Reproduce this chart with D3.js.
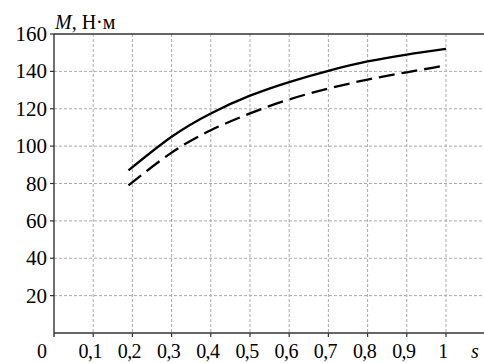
<!DOCTYPE html>
<html><head><meta charset="utf-8">
<script src="https://cdn.jsdelivr.net/npm/d3@7"></script>
</head><body style="margin:0"><svg id="c" width="484" height="363"></svg>
<script>
const sValues = [0.19, 0.3, 0.4, 0.5, 0.6, 0.7, 0.8, 0.9, 1.0];
const solidM  = [87, 105, 117.5, 127, 134.3, 140.3, 145.3, 149, 152];
const dashedM = [79, 96.5, 108.5, 117.5, 125, 130.8, 135.6, 139.5, 143.2];
const xTicks = [0.1,0.2,0.3,0.4,0.5,0.6,0.7,0.8,0.9,1];
const yTicks = [20,40,60,80,100,120,140,160];

const svg = d3.select("#c");
const L = 54, T = 34, B = 333, R = 484;
const x = d3.scaleLinear().domain([0, 1.097]).range([L, R]);
const y = d3.scaleLinear().domain([0, 160]).range([B, T]);
const fmt = d => String(d).replace(".", ",");
const ff = () => '"Liberation Serif"';

// grid
svg.append("g").selectAll("line").data(xTicks).join("line")
  .attr("x1", d => x(d)).attr("x2", d => x(d)).attr("y1", T).attr("y2", B)
  .attr("stroke", "#aaa").attr("stroke-width", 1).attr("stroke-dasharray", "3,2");
svg.append("g").selectAll("line").data(yTicks.filter(d => d < 160)).join("line")
  .attr("x1", L).attr("x2", R).attr("y1", d => y(d)).attr("y2", d => y(d))
  .attr("stroke", "#aaa").attr("stroke-width", 1).attr("stroke-dasharray", "3,2");

// axes
const ax = "#333";
svg.append("line").attr("x1", L).attr("x2", R).attr("y1", T).attr("y2", T).attr("stroke", ax).attr("stroke-width", 1.4);
svg.append("line").attr("x1", L).attr("x2", R).attr("y1", B).attr("y2", B).attr("stroke", ax).attr("stroke-width", 1.4);
svg.append("line").attr("x1", L).attr("x2", L).attr("y1", T).attr("y2", B + 4).attr("stroke", ax).attr("stroke-width", 1.4);
svg.append("g").selectAll("line").data(yTicks).join("line")
  .attr("x1", L - 4).attr("x2", L).attr("y1", d => y(d)).attr("y2", d => y(d)).attr("stroke", ax).attr("stroke-width", 1.2);
svg.append("g").selectAll("line").data(xTicks).join("line")
  .attr("x1", d => x(d)).attr("x2", d => x(d)).attr("y1", B).attr("y2", B + 4).attr("stroke", ax).attr("stroke-width", 1.2);

// labels
svg.selectAll("text.yl").data(yTicks).join("text").attr("class", "yl")
  .style("font-family", ff)
  .attr("x", 47).attr("y", d => y(d) + 7).attr("text-anchor", "end")
  .attr("font-size", 21).text(d => d);
svg.selectAll("text.xl").data(xTicks).join("text").attr("class", "xl")
  .style("font-family", ff)
  .attr("x", d => x(d) - 3).attr("y", 358).attr("text-anchor", "middle")
  .attr("font-size", 20).attr("letter-spacing", -0.6).text(fmt);
svg.append("text").style("font-family", ff).attr("x", 42).attr("y", 358).attr("text-anchor", "middle").attr("font-size", 20).text("0");
svg.append("text").style("font-family", ff).attr("x", 471).attr("y", 358).attr("font-size", 20).attr("font-style", "italic").text("s");
const t = svg.append("text").style("font-family", ff).attr("x", 55).attr("y", 29).attr("font-size", 20);
t.append("tspan").attr("font-style", "italic").text("M");
t.append("tspan").text(", Н·м");

// curves
const line = d3.line().x(d => x(d[0])).y(d => y(d[1])).curve(d3.curveNatural);
svg.append("path").datum(sValues.map((s, i) => [s, solidM[i]])).attr("d", line)
  .attr("fill", "none").attr("stroke", "#000").attr("stroke-width", 2.3);
svg.append("path").datum(sValues.map((s, i) => [s, dashedM[i]])).attr("d", line)
  .attr("fill", "none").attr("stroke", "#000").attr("stroke-width", 2.3).attr("stroke-dasharray", "16,7");
</script></body></html>
